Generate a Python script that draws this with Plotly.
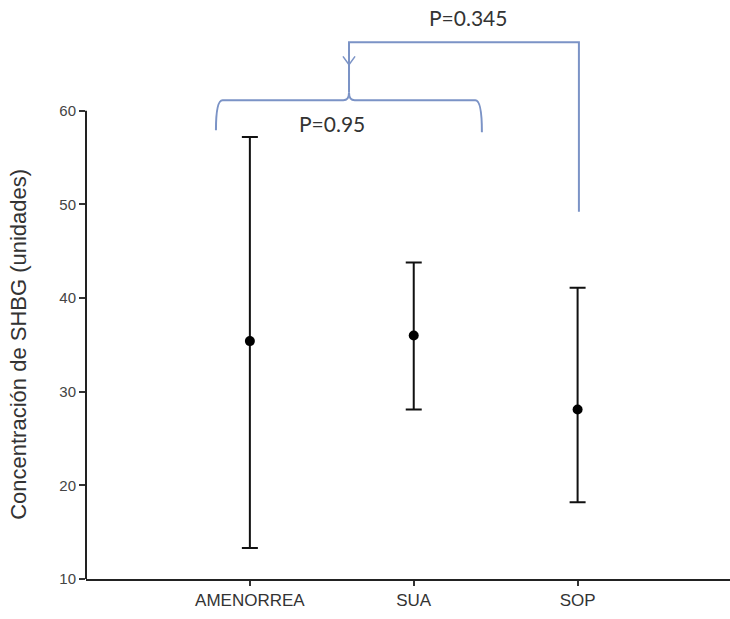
import plotly.graph_objects as go

categories = ["AMENORREA", "SUA", "SOP"]
positions = [1, 2, 3]
means = [35.4, 36.0, 28.1]
upper = [57.2, 43.8, 41.1]
lower = [13.3, 28.1, 18.2]
y_ticks = [10, 20, 30, 40, 50, 60]

err_plus = [u - m for u, m in zip(upper, means)]
err_minus = [m - l for m, l in zip(means, lower)]

fig = go.Figure()
fig.add_trace(go.Scatter(
    x=positions, y=means, mode="markers",
    marker=dict(color="black", size=10),
    error_y=dict(type="data", symmetric=False, array=err_plus, arrayminus=err_minus,
                 color="#111111", thickness=2, width=8),
    showlegend=False, hoverinfo="skip",
))

bc = "#7b93c6"
# lower brace (AMENORREA vs SUA)
x0, x1, xp = 0.793, 2.416, 1.605
yb0, yb1, yh, ypk = 57.9, 57.7, 61.1, 61.9
brace = (f"M {x0},{yb0} Q {x0},{yh} {x0+0.04},{yh} L {xp-0.035},{yh} "
         f"Q {xp},{yh} {xp},{ypk} Q {xp},{yh} {xp+0.035},{yh} "
         f"L {x1-0.04},{yh} Q {x1},{yh} {x1},{yb1}")
# upper bracket (to SOP)
xs, ytop, ysb = 3.008, 67.3, 49.2
upper_br = f"M {xp},{ypk} L {xp},{ytop} L {xs},{ytop} L {xs},{ysb}"
arrow = f"M {xp-0.037},{65.8} L {xp},{64.9} L {xp+0.037},{65.8}"

shapes = [
    dict(type="path", path=brace, xref="x", yref="y", line=dict(color=bc, width=2)),
    dict(type="path", path=upper_br, xref="x", yref="y", line=dict(color=bc, width=2)),
    dict(type="path", path=arrow, xref="x", yref="y", line=dict(color=bc, width=1.5)),
    # y axis line from 10 to 60
    dict(type="line", xref="paper", yref="y", x0=0, x1=0, y0=y_ticks[0], y1=y_ticks[-1],
         line=dict(color="#222222", width=2)),
]

annotations = [
    dict(text="P=0.345", x=2.33, y=69.9, xref="x", yref="y", showarrow=False,
         font=dict(family="Lato", size=21, color="#333333")),
    dict(text="P=0.95", x=1.5, y=58.6, xref="x", yref="y", showarrow=False,
         font=dict(family="Lato", size=21, color="#333333")),
    dict(text="Concentración de SHBG (unidades)", x=0, xshift=-67, xref="paper",
         xanchor="center", yanchor="middle",
         y=35, yref="y", textangle=-90, showarrow=False,
         font=dict(family="Liberation Sans, Arial", size=22, color="#333333")),
]

fig.update_layout(
    width=730, height=619,
    margin=dict(l=86, r=0, t=17, b=40),
    paper_bgcolor="white", plot_bgcolor="white",
    shapes=shapes, annotations=annotations,
    xaxis=dict(range=[0, 3.93], tickvals=positions, ticktext=categories,
               showline=True, linecolor="#222222", linewidth=2,
               ticks="outside", ticklen=5, tickwidth=1.5, tickcolor="#333333",
               showgrid=False, zeroline=False,
               tickfont=dict(family="Liberation Sans, Arial", size=17, color="#333333")),
    yaxis=dict(range=[10, 70], tickvals=y_ticks, showline=False,
               ticks="outside", ticklen=6, tickwidth=1.5, tickcolor="#333333",
               showgrid=False, zeroline=False,
               tickfont=dict(family="Liberation Sans, Arial", size=15, color="#444444")),
)

fig.write_html("out.html")
